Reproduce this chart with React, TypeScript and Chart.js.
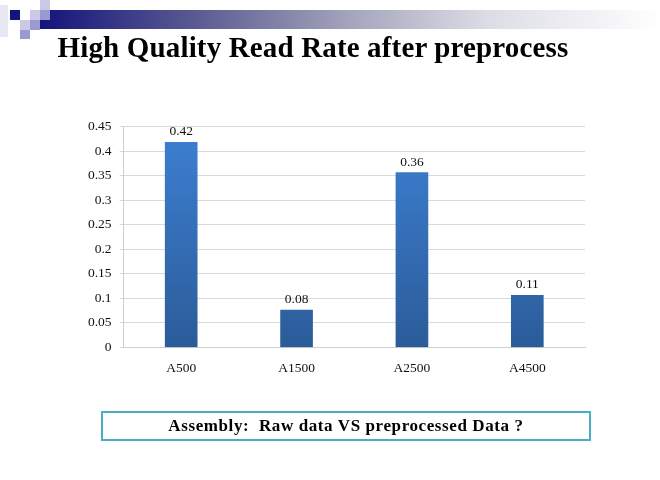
import React, { useEffect, useRef } from "react";
import { Chart, registerables } from "chart.js";

Chart.register(...registerables);

const categories = ["A500", "A1500", "A2500", "A4500"];
const readRates = [0.418, 0.076, 0.356, 0.106];
const yMax = 0.45;
const yStep = 0.05;

const serif = "'Liberation Serif', 'Times New Roman', serif";

const valueLabelPlugin = {
  id: "valueLabels",
  afterDatasetsDraw(chart: any) {
    const ctx = chart.ctx;
    const meta = chart.getDatasetMeta(0);
    ctx.save();
    ctx.font = `13.5px ${serif}`;
    ctx.fillStyle = "#111";
    ctx.textAlign = "center";
    ctx.textBaseline = "alphabetic";
    meta.data.forEach((bar: any, i: number) => {
      const v = chart.data.datasets[0].data[i] as number;
      ctx.fillText(v.toFixed(2), bar.x, bar.y - 7);
    });
    ctx.restore();
  },
};

function BarChart() {
  const ref = useRef<HTMLCanvasElement | null>(null);
  useEffect(() => {
    if (!ref.current) return;
    const chart = new Chart(ref.current, {
      type: "bar",
      data: {
        labels: categories,
        datasets: [
          {
            data: readRates,
            barThickness: 32,
            backgroundColor: (c: any) => {
              const area = c.chart.chartArea;
              if (!area) return "#3570b8";
              const g = c.chart.ctx.createLinearGradient(0, area.top, 0, area.bottom);
              g.addColorStop(0, "#3d80d3");
              g.addColorStop(1, "#2b5c99");
              return g;
            },
            borderWidth: 0,
          },
        ],
      },
      options: {
        animation: false,
        responsive: false,
        maintainAspectRatio: false,
        layout: { padding: { left: 0, top: 126.5, right: 75, bottom: 102.5 } },
        plugins: { legend: { display: false }, tooltip: { enabled: false } },
        scales: {
          x: {
            grid: { display: false, drawTicks: false },
            border: { color: "#cfcfcf", width: 1 },
            ticks: { color: "#111", font: { family: serif, size: 13.5 }, padding: 13 },
            afterFit: (s: any) => {
              s.height = 30;
            },
          },
          y: {
            min: 0,
            max: yMax,
            grid: { color: "#d9d9d9", tickLength: 4 },
            border: { color: "#cfcfcf", width: 1 },
            ticks: {
              stepSize: yStep,
              color: "#111",
              font: { family: serif, size: 13.5 },
              padding: 8,
              callback: (v: any) => String(Number(Number(v).toFixed(2))),
            },
            afterFit: (s: any) => {
              s.width = 123.5;
            },
          },
        },
      },
      plugins: [valueLabelPlugin],
    });
    return () => chart.destroy();
  }, []);
  return (
    <canvas
      ref={ref}
      width={660}
      height={480}
      style={{ position: "absolute", left: 0, top: 0, width: 660, height: 480 }}
    />
  );
}

const sq = (left: number, top: number, w: number, h: number, bg: string) => (
  <div style={{ position: "absolute", left, top, width: w, height: h, background: bg }} />
);

export default function App() {
  return (
    <div
      style={{
        position: "absolute",
        left: 0,
        top: 0,
        width: 660,
        height: 480,
        background: "#fff",
        overflow: "hidden",
      }}
    >
      <BarChart />
      <div
        style={{
          position: "absolute",
          left: 40,
          top: 10,
          width: 620,
          height: 19,
          background: "linear-gradient(to right, #14147c 0%, #5a5a92 25%, #a4a4bc 50%, #dcdce6 72%, #ffffff 100%)",
        }}
      />
      {sq(0, 5, 8, 32, "#e8e8f4")}
      {sq(10, 10, 10, 10, "#141480")}
      {sq(40, 0, 10, 10, "#cacae6")}
      {sq(30, 10, 10, 10, "#cacae6")}
      {sq(40, 10, 10, 10, "#9a9ad0")}
      {sq(20, 20, 10, 10, "#cacae6")}
      {sq(30, 20, 10, 10, "#9a9ad0")}
      {sq(20, 30, 10, 9, "#9a9ad0")}
      <div
        style={{
          position: "absolute",
          left: 0,
          top: 33,
          width: 626,
          textAlign: "center",
          fontFamily: serif,
          fontWeight: "bold",
          fontSize: 29,
          letterSpacing: 0.15,
          lineHeight: "29px",
          color: "#000",
          whiteSpace: "pre",
        }}
      >
        High Quality Read Rate after preprocess
      </div>
      <div
        style={{
          position: "absolute",
          left: 101,
          top: 411,
          width: 490,
          height: 30,
          boxSizing: "border-box",
          border: "2px solid #4bacc6",
          display: "flex",
          alignItems: "center",
          justifyContent: "center",
          fontFamily: serif,
          fontWeight: "bold",
          fontSize: 17,
          letterSpacing: 0.6,
          color: "#000",
          whiteSpace: "pre",
        }}
      >
        {"Assembly:  Raw data VS preprocessed Data ?"}
      </div>
    </div>
  );
}
